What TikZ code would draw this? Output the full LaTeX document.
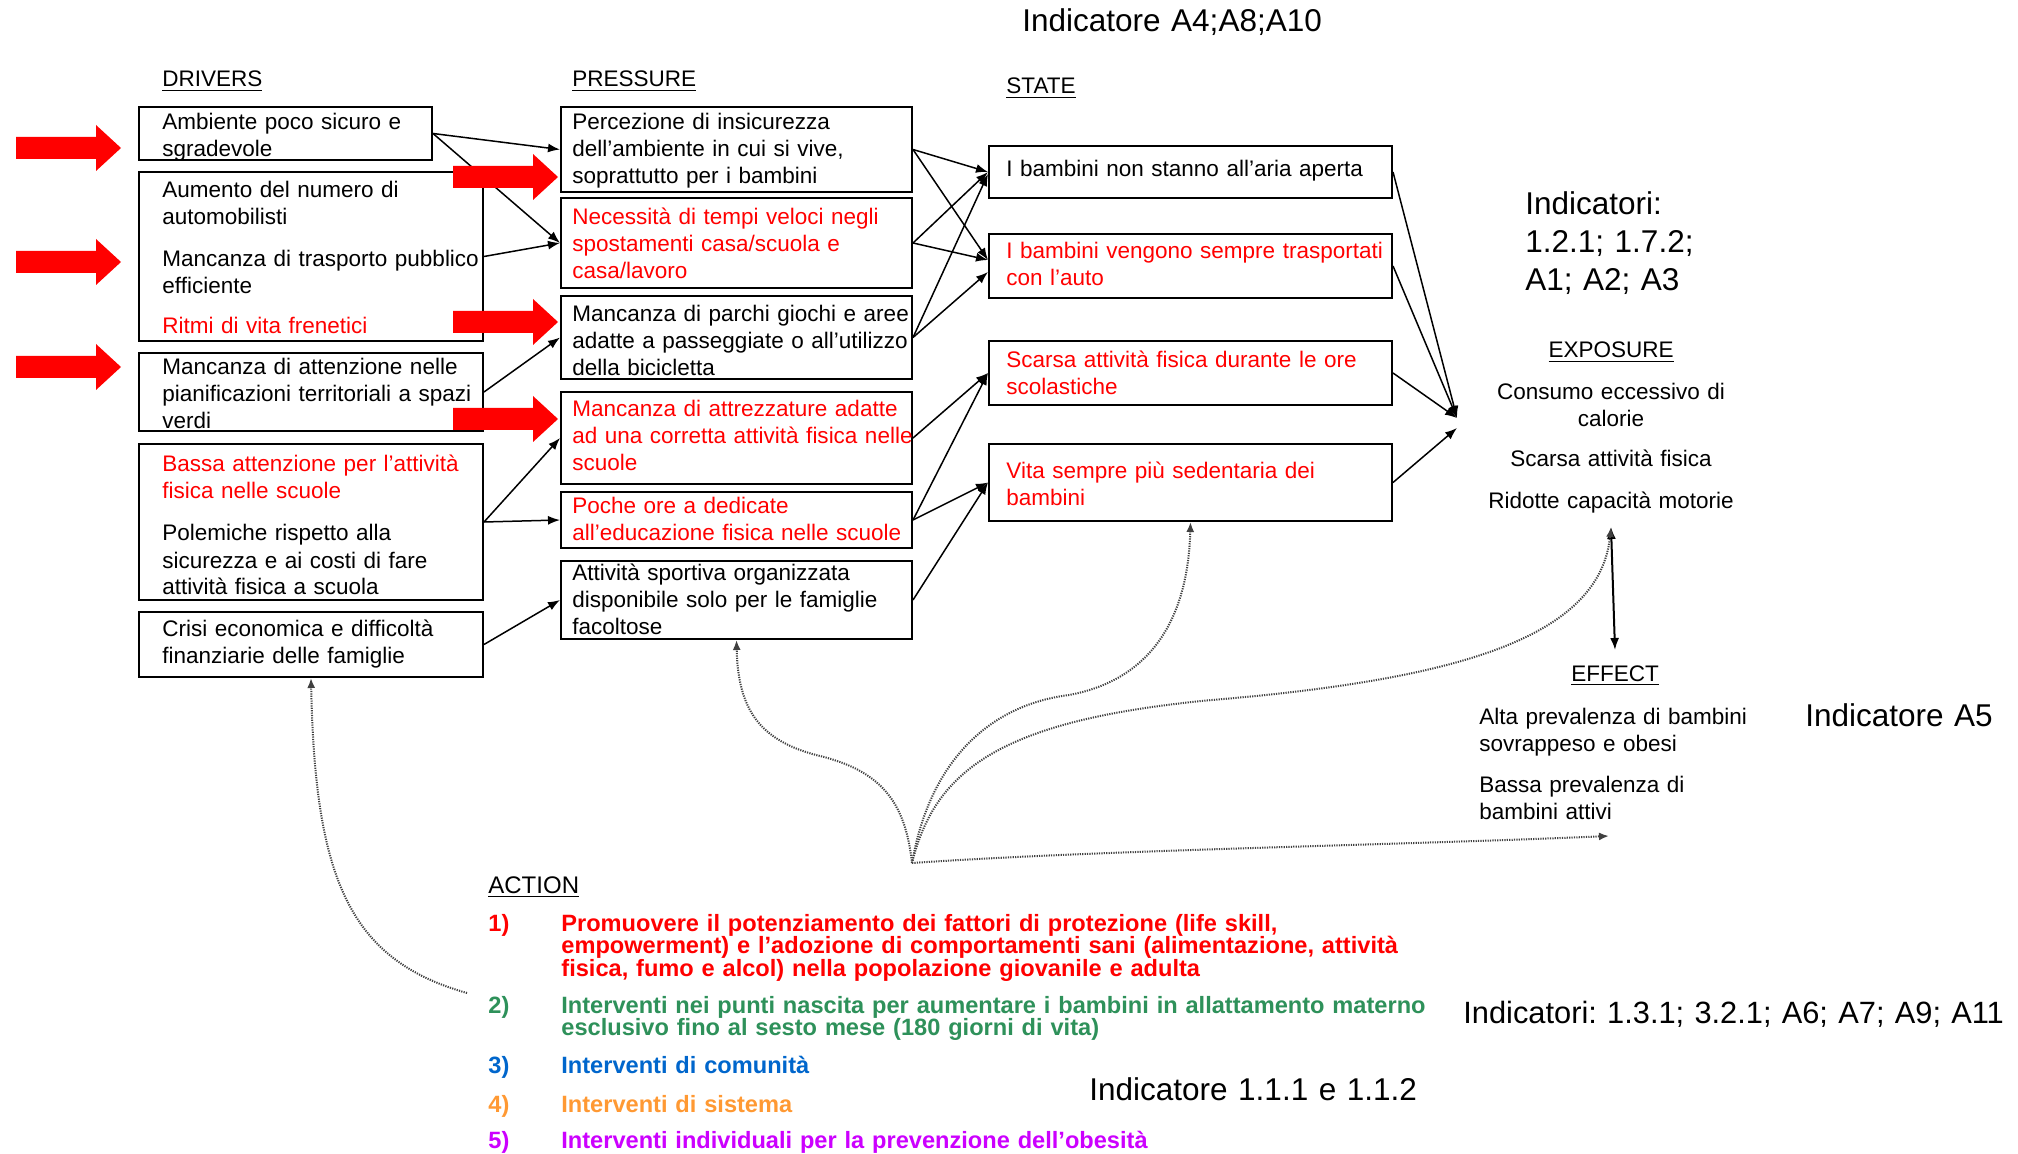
\documentclass[tikz,border=0pt]{standalone}
\usepackage{fontspec}
\setmainfont{Liberation Sans}
\usetikzlibrary{arrows.meta,fit}
\definecolor{ared}{RGB}{255,0,0}
\definecolor{agreen}{RGB}{46,145,90}
\definecolor{ablue}{RGB}{0,102,204}
\definecolor{aorange}{RGB}{255,153,51}
\definecolor{apurple}{RGB}{204,0,255}
\newcommand\redarrow[2]{\fill[ared] (#1,#2-11) -- (#1+80,#2-11) -- (#1+80,#2-23) -- (#1+105,#2) -- (#1+80,#2+23) -- (#1+80,#2+11) -- (#1,#2+11) -- cycle;}
\begin{document}
\frenchspacing
\begin{tikzpicture}[x=0.5pt,y=-0.5pt,
  box/.style={draw, line width=1pt, inner sep=0pt},
  txt/.style={anchor=base west, inner sep=0pt, align=left, text width=#1, yshift=-1.5pt, font=\fontsize{11.25pt}{13.5pt}\selectfont},
  txt/.default=190pt,
  ctxt/.style={anchor=base, inner sep=0pt, align=center, text width=150pt, yshift=-1.5pt, font=\fontsize{11.25pt}{13.5pt}\selectfont},
  big/.style={anchor=base west, inner sep=0pt, align=left, text width=300pt, font=\fontsize{15.75pt}{19pt}\selectfont},
  actnum/.style={anchor=base west, inner sep=0pt, font=\fontsize{11.8pt}{11.25pt}\selectfont\bfseries},
  acttxt/.style={anchor=base west, inner sep=0pt, align=left, text width=480pt, font=\fontsize{11.8pt}{11.25pt}\selectfont\bfseries},
  arr/.style={-{Latex[length=6pt,width=4.5pt]}, line width=0.75pt},
  dblarr/.style={{Latex[length=6pt,width=4.5pt]}-{Latex[length=6pt,width=4.5pt]}, line width=1pt},
  dotarr/.style={-{Latex[length=5pt,width=4pt]}, line width=1pt, dash pattern=on 0.6pt off 0.6pt, black!75}
]
\fill[white] (0,0) rectangle (2018,1154);
\useasboundingbox (0,0) rectangle (2018,1154);

% headers
\node[txt] (hdr) at (162,84) {\underline{DRIVERS}};
\node[txt] (hpr) at (572,84) {\underline{PRESSURE}};
\node[txt] (hst) at (1006,91) {\underline{STATE}};

% big indicator labels
\node[big] (ind1) at (1022,32) {Indicatore A4;A8;A10};
\node[big] (ind2) at (1525,215) {Indicatori:\\1.2.1; 1.7.2;\\A1; A2; A3};
\node[big] (ind3) at (1805,726) {Indicatore A5};
\node[big, font=\fontsize{15.4pt}{19pt}\selectfont] (ind4) at (1463,1023) {Indicatori: 1.3.1; 3.2.1; A6; A7; A9; A11};
\node[big] (ind5) at (1089,1100) {Indicatore 1.1.1 e 1.1.2};

% DRIVERS boxes
\node[box, fit={(139,107) (432,160)}] (d1) {};
\node[box, fit={(139,172) (483,341)}] (d2) {};
\node[box, fit={(139,353) (483,431)}] (d3) {};
\node[box, fit={(139,444) (483,600)}] (d4) {};
\node[box, fit={(139,612) (483,677)}] (d5) {};
\node[txt] (d1t) at (162,127) {Ambiente poco sicuro e\\sgradevole};
\node[txt] (d2a) at (162,195) {Aumento del numero di\\automobilisti};
\node[txt] (d2b) at (162,264) {Mancanza di trasporto pubblico\\efficiente};
\node[txt, text=ared] (d2c) at (162,331) {Ritmi di vita frenetici};
\node[txt] (d3t) at (162,372) {Mancanza di attenzione nelle\\pianificazioni territoriali a spazi\\verdi};
\node[txt, text=ared] (d4a) at (162,469) {Bassa attenzione per l’attività\\fisica nelle scuole};
\node[txt] (d4b) at (162,538) {Polemiche rispetto alla\\sicurezza e ai costi di fare\\attività fisica a scuola};
\node[txt] (d5t) at (162,633) {Crisi economica e difficoltà\\finanziarie delle famiglie};

% PRESSURE boxes
\node[box, fit={(561,107) (912,192)}] (p1) {};
\node[box, fit={(561,198) (912,288)}] (p2) {};
\node[box, fit={(561,296) (912,379)}] (p3) {};
\node[box, fit={(561,392) (912,484)}] (p4) {};
\node[box, fit={(561,492) (912,548)}] (p5) {};
\node[box, fit={(561,561) (912,639)}] (p6) {};
\node[txt] (p1t) at (572,127) {Percezione di insicurezza\\dell’ambiente in cui si vive,\\soprattutto per i bambini};
\node[txt, text=ared] (p2t) at (572,222) {Necessità di tempi veloci negli\\spostamenti casa/scuola e\\casa/lavoro};
\node[txt] (p3t) at (572,319) {Mancanza di parchi giochi e aree\\adatte a passeggiate o all’utilizzo\\della bicicletta};
\node[txt, text=ared] (p4t) at (572,414) {Mancanza di attrezzature adatte\\ad una corretta attività fisica nelle\\scuole};
\node[txt, text=ared] (p5t) at (572,511) {Poche ore a dedicate\\all’educazione fisica nelle scuole};
\node[txt] (p6t) at (572,578) {Attività sportiva organizzata\\disponibile solo per le famiglie\\facoltose};

% STATE boxes
\node[box, fit={(989,146) (1392,198)}] (s1) {};
\node[box, fit={(989,234) (1392,298)}] (s2) {};
\node[box, fit={(989,341) (1392,405)}] (s3) {};
\node[box, fit={(989,444) (1392,521)}] (s4) {};
\node[txt=200pt] (s1t) at (1006,174) {I bambini non stanno all’aria aperta};
\node[txt=200pt, text=ared] (s2t) at (1006,256) {I bambini vengono sempre trasportati\\con l’auto};
\node[txt=200pt, text=ared] (s3t) at (1006,365) {Scarsa attività fisica durante le ore\\scolastiche};
\node[txt=200pt, text=ared] (s4t) at (1006,476) {Vita sempre più sedentaria dei\\bambini};

% EXPOSURE / EFFECT
\node[ctxt] (exh) at (1611,355) {\underline{EXPOSURE}};
\node[ctxt] (ex1) at (1611,397) {Consumo eccessivo di\\calorie};
\node[ctxt] (ex2) at (1611,464) {Scarsa attività fisica};
\node[ctxt] (ex3) at (1611,506) {Ridotte capacità motorie};
\node[ctxt] (efh) at (1615,678) {\underline{EFFECT}};
\node[txt=150pt] (ef1) at (1479,721) {Alta prevalenza di bambini\\sovrappeso e obesi};
\node[txt=150pt] (ef2) at (1479,789) {Bassa prevalenza di\\bambini attivi};

% ACTION
\node[txt] (ach) at (488,890) {\fontsize{12pt}{13.5pt}\selectfont\underline{ACTION}};
\node[actnum, text=ared] (n1) at (488,931) {1)};
\node[acttxt, text=ared] (a1) at (561,931) {Promuovere il potenziamento dei fattori di protezione (life skill,\\empowerment) e l’adozione di comportamenti sani (alimentazione, attività\\fisica, fumo e alcol) nella popolazione giovanile e adulta};
\node[actnum, text=agreen] (n2) at (488,1013) {2)};
\node[acttxt, text=agreen] (a2) at (561,1013) {Interventi nei punti nascita per aumentare i bambini in allattamento materno\\esclusivo fino al sesto mese (180 giorni di vita)};
\node[actnum, text=ablue] (n3) at (488,1073) {3)};
\node[acttxt, text=ablue] (a3) at (561,1073) {Interventi di comunità};
\node[actnum, text=aorange] (n4) at (488,1112) {4)};
\node[acttxt, text=aorange] (a4) at (561,1112) {Interventi di sistema};
\node[actnum, text=apurple] (n5) at (488,1148) {5)};
\node[acttxt, text=apurple] (a5) at (561,1148) {Interventi individuali per la prevenzione dell’obesità};

% coordinates
\coordinate (conv) at (1457,418);
\coordinate (conv2) at (1457,428);
\coordinate (exb) at (1611,527);
\coordinate (eft) at (1615,650);
\coordinate (act) at (912,863);
\coordinate (a2s) at (467,993);
\coordinate (efb) at (1609,836);

% DRIVERS -> PRESSURE
\draw[arr] (d1.east) -- (p1.west);
\draw[arr] (d1.east) -- (p2.west);
\draw[arr] (d2.east) -- (p2.west);
\draw[arr] (d3.east) -- (p3.west);
\draw[arr] (d4.east) -- (p4.west);
\draw[arr] (d4.east) -- (p5.west);
\draw[arr] (d5.east) -- (p6.west);

% PRESSURE -> STATE
\draw[arr] (p1.east) -- (s1.west);
\draw[arr] (p1.east) -- ([yshift=3pt]s2.west);
\draw[arr] (p2.east) -- (s1.west);
\draw[arr] (p2.east) -- ([yshift=3pt]s2.west);
\draw[arr] (p3.east) -- ([yshift=-1pt]s1.west);
\draw[arr] (p3.east) -- ([yshift=-3pt]s2.west);
\draw[arr] (p4.east) -- (s3.west);
\draw[arr] (p5.east) -- (s3.west);
\draw[arr] (p5.east) -- (s4.west);
\draw[arr] (p6.east) -- (s4.west);

% STATE -> EXPOSURE
\draw[arr] (s1.east) -- (conv);
\draw[arr] (s2.east) -- (conv);
\draw[arr] (s3.east) -- (conv);
\draw[arr] (s4.east) -- (conv2);

% EXPOSURE <-> EFFECT
\draw[dblarr] (exb) -- (eft);

% ACTION dotted curves
\draw[dotarr] (act) .. controls (930,760) and (990,705) .. (1069,695) .. controls (1150,680) and (1188,620) .. (s4.south);
\draw[dotarr] (act) .. controls (935,770) and (1000,720) .. (1212,700) .. controls (1450,680) and (1600,640) .. (exb);
\draw[dotarr] (act) .. controls (1100,850) and (1400,845) .. (efb);
\draw[dotarr] (act) .. controls (905,800) and (880,770) .. (816,755) .. controls (760,740) and (738,710) .. (p6.south);
\draw[dotarr] (a2s) .. controls (350,960) and (315,880) .. (d5.south);

% red block arrows
\redarrow{16}{148}
\redarrow{16}{262}
\redarrow{16}{367}
\redarrow{453}{177}
\redarrow{453}{322}
\redarrow{453}{419}
\end{tikzpicture}
\end{document}
